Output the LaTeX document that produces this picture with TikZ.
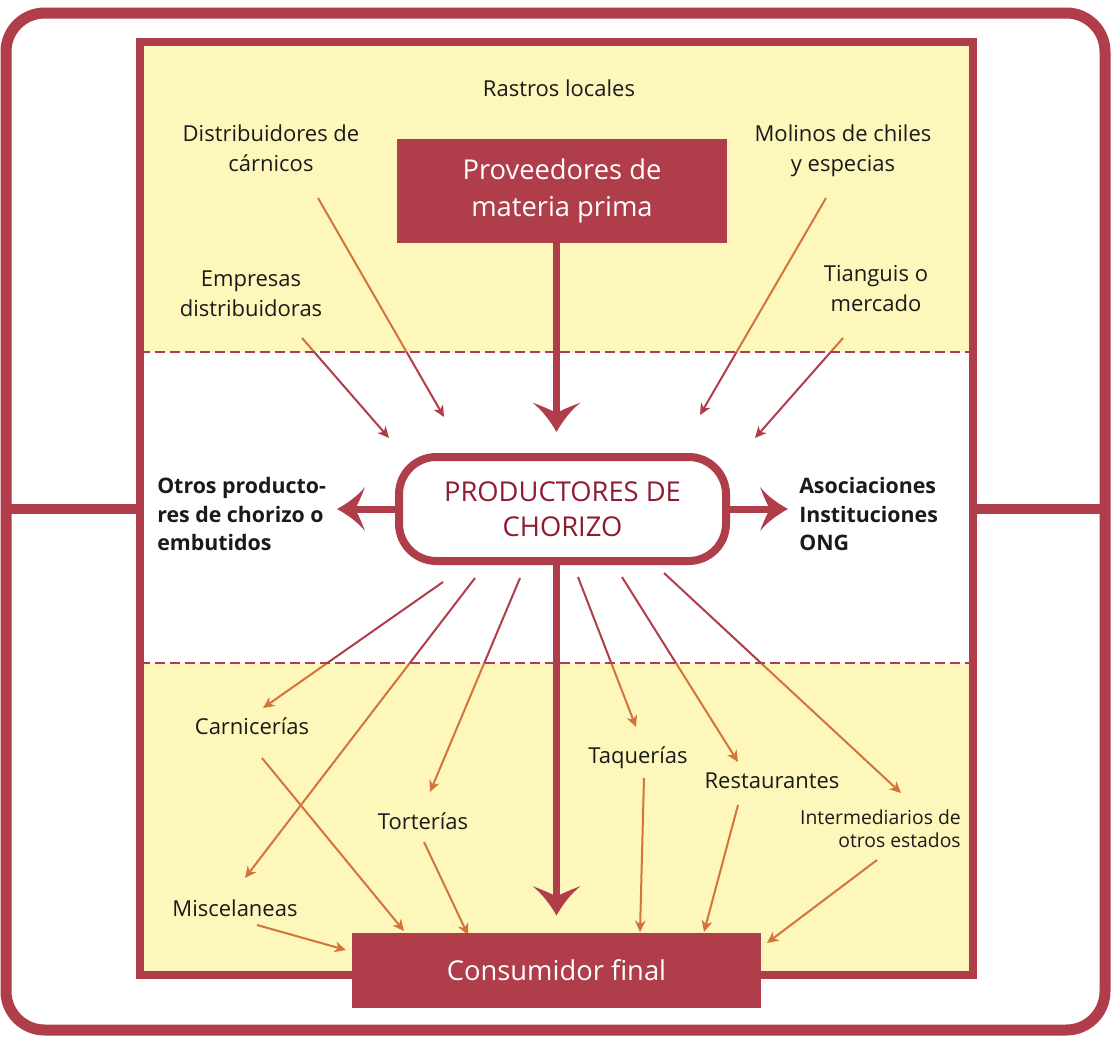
\documentclass[tikz,border=0pt]{standalone}
\usepackage{fontspec}
\setmainfont{Open Sans}
\usetikzlibrary{arrows.meta}
\definecolor{cred}{HTML}{B03D4A}
\definecolor{cyel}{HTML}{FEF7BB}
\definecolor{cdark}{HTML}{8E1B30}
\definecolor{corange}{HTML}{D2743C}
\definecolor{ctext}{HTML}{1A1A1A}
\pgfdeclarearrow{
  name=Swept,
  parameters={\the\pgfarrowlength,\the\pgfarrowwidth},
  setup code={
    \pgfarrowssettipend{0pt}
    \pgfarrowssetbackend{-\pgfarrowlength}
    \pgfarrowssetlineend{-0.5\pgfarrowlength}
    \pgfarrowssavethe\pgfarrowlength
    \pgfarrowssavethe\pgfarrowwidth
  },
  drawing code={
    \pgfpathmoveto{\pgfpoint{0pt}{0pt}}
    \pgfpathcurveto{\pgfpoint{-0.35*\pgfarrowlength}{0.12*\pgfarrowwidth}}
                   {\pgfpoint{-0.75*\pgfarrowlength}{0.3*\pgfarrowwidth}}
                   {\pgfpoint{-\pgfarrowlength}{0.5*\pgfarrowwidth}}
    \pgfpathcurveto{\pgfpoint{-0.82*\pgfarrowlength}{0.2*\pgfarrowwidth}}
                   {\pgfpoint{-0.68*\pgfarrowlength}{0.03*\pgfarrowwidth}}
                   {\pgfpoint{-0.64*\pgfarrowlength}{0pt}}
    \pgfpathcurveto{\pgfpoint{-0.68*\pgfarrowlength}{-0.03*\pgfarrowwidth}}
                   {\pgfpoint{-0.82*\pgfarrowlength}{-0.2*\pgfarrowwidth}}
                   {\pgfpoint{-\pgfarrowlength}{-0.5*\pgfarrowwidth}}
    \pgfpathcurveto{\pgfpoint{-0.75*\pgfarrowlength}{-0.3*\pgfarrowwidth}}
                   {\pgfpoint{-0.35*\pgfarrowlength}{-0.12*\pgfarrowwidth}}
                   {\pgfpoint{0pt}{0pt}}
    \pgfpathclose
    \pgfusepathqfill
  },
  defaults={length=22pt,width=36pt}
}
\begin{document}
\begin{tikzpicture}[x=0.75pt,y=-0.75pt,
  lbl/.style={font=\fontsize{16.5}{22.5}\selectfont, align=center, inner sep=0pt, text=ctext},
  blbl/.style={font=\fontsize{16}{21.5}\selectfont\bfseries, align=left, inner sep=0pt, text=ctext},
  slbl/.style={font=\fontsize{14.5}{17.5}\selectfont, align=right, inner sep=0pt, text=ctext},
  redbox/.style={fill=cred, text=white, inner sep=0pt, outer sep=0pt, align=center,
     font=\fontsize{20.5}{27.5}\selectfont},
  prodbox/.style={draw=cred, fill=white, line width=6pt, rounded corners=28pt, text=cdark,
     inner sep=0pt, outer sep=0pt, align=center, minimum width=327*0.75pt, minimum height=104*0.75pt,
     font=\fontsize{20.5}{26.5}\selectfont},
  bigarrow/.style={draw=cred, line width=5.25pt, -{Swept[length=22pt,width=36pt]}},
  sidearrow/.style={draw=cred, line width=5.25pt, -{Swept[length=21pt,width=33pt]}},
  thinarr/.style={line width=1.5pt, -{Stealth[length=8.5pt,width=8pt,inset=2.5pt]}},
  band/.style={draw=cred, line width=1.8pt, dash pattern=on 7.5pt off 3.75pt},
  connector/.style={draw=cred, line width=7.5pt}
]
\useasboundingbox (0,0) rectangle (1111,1036);
\fill[white] (0,0) rectangle (1111,1036);
% yellow bands
\fill[cyel] (140,42) rectangle (973,352);
\fill[cyel] (140,663) rectangle (973,975);

% endpoints of thin arrows
\coordinate (a1-s) at (318,198); \coordinate (a1-e) at (444,417);
\coordinate (a2-s) at (302,338); \coordinate (a2-e) at (389,438);
\coordinate (a3-s) at (826,198); \coordinate (a3-e) at (700,415);
\coordinate (a4-s) at (843,338); \coordinate (a4-e) at (755,438);
\coordinate (b1-s) at (443,582); \coordinate (b1-e) at (263,708);
\coordinate (b2-s) at (475,578); \coordinate (b2-e) at (245,878);
\coordinate (b3-s) at (520,578); \coordinate (b3-e) at (430,792);
\coordinate (b4-s) at (578,577); \coordinate (b4-e) at (636,727);
\coordinate (b5-s) at (622,577); \coordinate (b5-e) at (738,762);
\coordinate (b6-s) at (664,573); \coordinate (b6-e) at (901,793);
\coordinate (c1-s) at (262,758); \coordinate (c1-e) at (404,931);
\coordinate (c2-s) at (257,925); \coordinate (c2-e) at (346,950);
\coordinate (c3-s) at (424,842); \coordinate (c3-e) at (468,935);
\coordinate (c4-s) at (644,778); \coordinate (c4-e) at (640,932);
\coordinate (c5-s) at (738,805); \coordinate (c5-e) at (704,932);
\coordinate (c6-s) at (877,860); \coordinate (c6-e) at (767,943);
\newcommand\thinarrows{%
  \foreach \n in {a1,a2,a3,a4,b1,b2,b3,b4,b5,b6,c1,c2,c3,c4,c5,c6}
    {\draw[thinarr] (\n-s) -- (\n-e);}}
\begin{scope}[color=cred]
  \clip (140,352) rectangle (973,663);
  \thinarrows
\end{scope}
\begin{scope}[color=corange]
  \clip (140,30) rectangle (973,352) (140,663) rectangle (973,990);
  \thinarrows
\end{scope}

% frames
\node[draw=cred, line width=6pt, inner sep=0pt, outer sep=0pt,
      minimum width=833*0.75pt, minimum height=933*0.75pt] (frame) at (556.5,508.5) {};
\node[draw=cred, line width=8.25pt, rounded corners=29pt, inner sep=0pt, outer sep=0pt,
      minimum width=1099*0.75pt, minimum height=1017*0.75pt] (outer) at (555.5,521.5) {};

% dashed band limits
\coordinate (d1) at (140,352); \coordinate (d2) at (140,663);
\draw[band] (frame.west |- d1) -- (frame.east |- d1);
\draw[band] (frame.west |- d2) -- (frame.east |- d2);

% main boxes
\node[redbox, minimum width=330*0.75pt, minimum height=104*0.75pt] (prov) at (562,191) {\raisebox{-2pt}{Proveedores de}\\\raisebox{-2pt}{materia prima}};
\node[prodbox] (prod) at (562.5,509) {PRODUCTORES DE\\CHORIZO};
\node[redbox, minimum width=409*0.75pt, minimum height=75*0.75pt] (cons) at (556.5,970) {Consumidor final};

% connectors from frame to outer frame
\draw[connector] (outer.west |- prod) -- (frame.west |- prod);
\draw[connector] (frame.east |- prod) -- (outer.east |- prod);

% labels
\node[lbl] (rastros) at (559,88) {Rastros locales};
\node[lbl] (distc) at (271,148) {Distribuidores de\\cárnicos};
\node[lbl] (molinos) at (843,151) {Molinos de chiles\\y especias};
\node[lbl] (empresas) at (251,294) {Empresas\\distribuidoras};
\node[lbl] (tianguis) at (876,289) {Tianguis o\\mercado};
\node[blbl, anchor=west] (otros) at (157,514) {Otros producto-\\res de chorizo o\\embutidos};
\node[blbl, anchor=west] (asoc) at (799,514) {Asociaciones\\Instituciones\\ONG};
\node[lbl] (carn) at (252,726) {Carnicerías};
\node[lbl] (misc) at (235,908) {Miscelaneas};
\node[lbl] (tort) at (423,821) {Torterías};
\node[lbl] (taq) at (638,758) {Taquerías};
\node[lbl] (rest) at (772,781) {Restaurantes};
\node[slbl, anchor=east] (inter) at (961,829) {Intermediarios de\\otros estados};

% thick arrows
\draw[bigarrow, shorten >=18.75pt] (prov.south -| cons.north) -- (prod.north -| cons.north);
\draw[bigarrow, shorten >=12.75pt] (prod.south -| cons.north) -- (cons.north);
\draw[sidearrow] (prod.west) -- ([xshift=-62*0.75pt]prod.west);
\draw[sidearrow] (prod.east) -- ([xshift=62*0.75pt]prod.east);
\end{tikzpicture}
\end{document}
